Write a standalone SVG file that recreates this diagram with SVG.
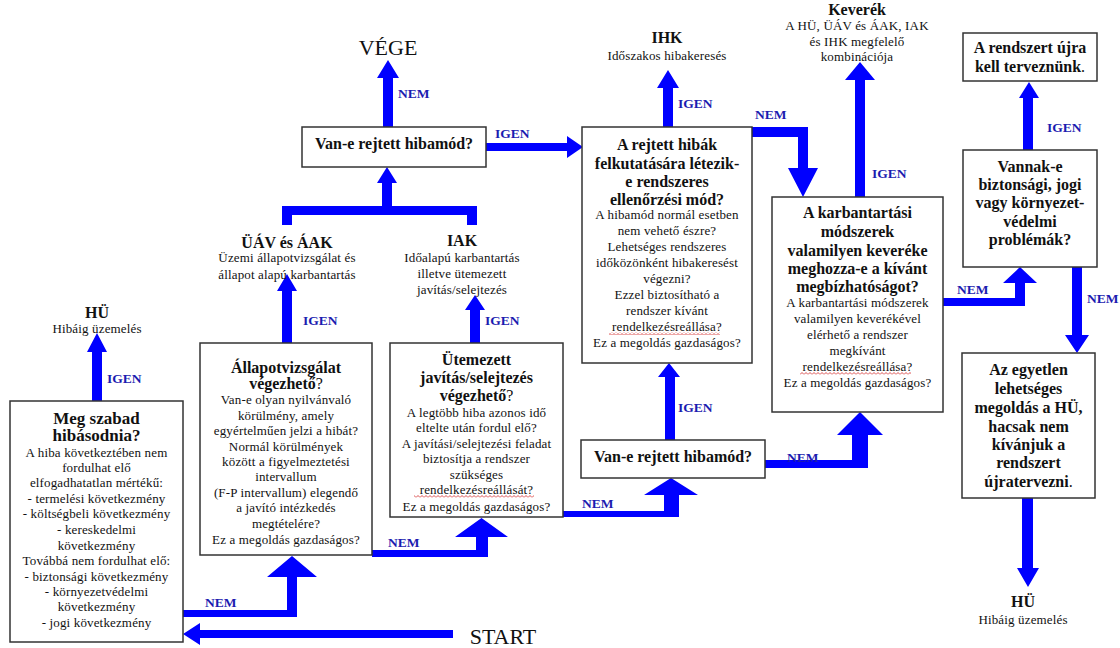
<svg xmlns="http://www.w3.org/2000/svg" width="1120" height="648" viewBox="0 0 1120 648">
<style>
.box{fill:#fff;stroke:#333;stroke-width:1.5}
.t{font-family:"Liberation Serif","Times New Roman",serif;font-size:13px;letter-spacing:0.15px;fill:#111;text-anchor:middle}
.b{font-weight:bold;font-size:16px;letter-spacing:0}
.n{font-weight:normal}
.h{font-family:"Liberation Serif","Times New Roman",serif;font-weight:bold;font-size:16px;fill:#111;text-anchor:middle}
.big{font-family:"Liberation Serif","Times New Roman",serif;font-size:22px;fill:#111;text-anchor:middle}
.lbl{font-family:"Liberation Serif","Times New Roman",serif;font-weight:bold;font-size:13.5px;fill:#1c1cb0}
.arr{fill:#0000ff}
</style>
<defs>
<pattern id="wavy" width="4" height="3" patternUnits="userSpaceOnUse">
<path d="M0,2.5 L2,0.5 L4,2.5" fill="none" stroke="#d02020" stroke-width="0.8"/>
</pattern>
</defs>
<rect width="1120" height="648" fill="#fff"/>

<g id="connectors">
<polygon class="arr" points="92,401 92,352 87,352 97,333 107,352 102,352 102,401"/>
<polygon class="arr" points="282,343 282,291 277,291 287,274 297,291 292,291 292,343"/>
<polygon class="arr" points="470,343 470,310 465,310 475,295 485,310 480,310 480,343"/>
<polygon class="arr" points="282,225 282,206 382,206 382,183 377,183 387,167 397,183 392,183 392,206 477,206 477,225 467,225 467,215 292,215 292,225"/>
<polygon class="arr" points="383,127 383,78 377,78 388,60 399,78 393,78 393,127"/>
<polygon class="arr" points="486,143 567,143 567,136 583,147 567,158 567,151 486,151"/>
<polygon class="arr" points="663,127 663,88 657,88 668,70 679,88 673,88 673,127"/>
<polygon class="arr" points="752,127 808,127 808,168 818,168 803,197 788,168 798,168 798,137 752,137"/>
<polygon class="arr" points="855,197 855,80 845,80 860,62 875,80 865,80 865,197"/>
<polygon class="arr" points="943,298 1015,298 1015,283 1003,283 1020,267 1037,283 1025,283 1025,306 943,306"/>
<polygon class="arr" points="1023,150 1023,98 1019,98 1029,82 1039,98 1033,98 1033,150"/>
<polygon class="arr" points="1072,267 1072,335 1065,335 1077,353 1089,335 1082,335 1082,267"/>
<polygon class="arr" points="1022,498 1022,568 1017,568 1028,587 1039,568 1033,568 1033,498"/>
<polygon class="arr" points="183,610 287,610 287,577 267,577 292,556 317,577 297,577 297,617 183,617"/>
<polygon class="arr" points="453,630 200,630 200,623 183,634 200,645 200,638 453,638"/>
<polygon class="arr" points="372,550 476,550 476,537 455,537 481.5,518 508,537 488,537 488,557 372,557"/>
<polygon class="arr" points="563,511 664,511 664,495 644,495 671,478 698,495 679,495 679,517 563,517"/>
<polygon class="arr" points="665,440 665,377 658,377 669,363 680,377 675,377 675,440"/>
<polygon class="arr" points="765,460 852,460 852,435 837,435 860,412 883,435 868,435 868,468 765,468"/>
</g>

<g id="labels">
<text class="lbl" x="107" y="383">IGEN</text>
<text class="lbl" x="303" y="325">IGEN</text>
<text class="lbl" x="485" y="325">IGEN</text>
<text class="lbl" x="398" y="98">NEM</text>
<text class="lbl" x="495" y="138">IGEN</text>
<text class="lbl" x="678" y="108">IGEN</text>
<text class="lbl" x="755" y="119">NEM</text>
<text class="lbl" x="872" y="178">IGEN</text>
<text class="lbl" x="1047" y="132">IGEN</text>
<text class="lbl" x="957" y="294">NEM</text>
<text class="lbl" x="1087" y="303">NEM</text>
<text class="lbl" x="205" y="607">NEM</text>
<text class="lbl" x="388" y="547">NEM</text>
<text class="lbl" x="582" y="508">NEM</text>
<text class="lbl" x="678" y="412">IGEN</text>
<text class="lbl" x="787" y="462">NEM</text>
</g>

<g id="start">
<text class="big" x="503" y="644">START</text>
</g>
<g id="vege">
<text class="big" x="388" y="55">VÉGE</text>
</g>

<g id="hu-left">
<text class="h" x="97" y="318">HÜ</text>
<text class="t" x="97" y="333">Hibáig üzemelés</text>
</g>
<g id="uav">
<text class="h" x="287" y="248">ÜÁV és ÁAK</text>
<text class="t" x="287" y="262">Üzemi állapotvizsgálat és</text>
<text class="t" x="287" y="279">állapot alapú karbantartás</text>
</g>
<g id="iak">
<text class="h" x="462" y="246">IAK</text>
<text class="t" x="462" y="262">Időalapú karbantartás</text>
<text class="t" x="462" y="278">illetve ütemezett</text>
<text class="t" x="462" y="294">javítás/selejtezés</text>
</g>
<g id="ihk">
<text class="h" x="667" y="43">IHK</text>
<text class="t" x="667" y="60">Időszakos hibakeresés</text>
</g>
<g id="keverek">
<text class="h" x="857" y="15">Keverék</text>
<text class="t" x="857" y="30">A HÜ, ÜÁV és ÁAK, IAK</text>
<text class="t" x="857" y="46">és IHK megfelelő</text>
<text class="t" x="857" y="61">kombinációja</text>
</g>
<g id="hu-right">
<text class="h" x="1023" y="607">HÜ</text>
<text class="t" x="1023" y="624">Hibáig üzemelés</text>
</g>

<g id="box-meg-szabad">
<rect class="box" x="10" y="401" width="173" height="241"/>
<text class="t b" x="96.5" y="424" style="font-size:17px">Meg szabad</text>
<text class="t b" x="96.5" y="441" style="font-size:17px">hibásodnia?</text>
<text class="t" x="96.5" y="457">A hiba következtében nem</text>
<text class="t" x="96.5" y="472">fordulhat elő</text>
<text class="t" x="96.5" y="487">elfogadhatatlan mértékű:</text>
<text class="t" x="96.5" y="503">- termelési következmény</text>
<text class="t" x="96.5" y="518">- költségbeli következmény</text>
<text class="t" x="96.5" y="534">- kereskedelmi</text>
<text class="t" x="96.5" y="550">következmény</text>
<text class="t" x="96.5" y="565">Továbbá nem fordulhat elő:</text>
<text class="t" x="96.5" y="581">- biztonsági következmény</text>
<text class="t" x="96.5" y="596">- környezetvédelmi</text>
<text class="t" x="96.5" y="611">következmény</text>
<text class="t" x="96.5" y="627">- jogi következmény</text>
</g>

<g id="box-allapot">
<rect class="box" x="200" y="343" width="172" height="212"/>
<text class="t b" x="286" y="373">Állapotvizsgálat</text>
<text class="t b" x="286" y="389">végezhető<tspan class="n">?</tspan></text>
<text class="t" x="286" y="404">Van-e olyan nyilvánvaló</text>
<text class="t" x="286" y="420">körülmény, amely</text>
<text class="t" x="286" y="435">egyértelműen jelzi a hibát?</text>
<text class="t" x="286" y="451">Normál körülmények</text>
<text class="t" x="286" y="466">között a figyelmeztetési</text>
<text class="t" x="286" y="481">intervallum</text>
<text class="t" x="286" y="497">(F-P intervallum) elegendő</text>
<text class="t" x="286" y="512">a javító intézkedés</text>
<text class="t" x="286" y="528">megtételére?</text>
<text class="t" x="286" y="544">Ez a megoldás gazdaságos?</text>
</g>

<g id="box-utemezett">
<rect class="box" x="390" y="343" width="173" height="174"/>
<text class="t b" x="476.5" y="365">Ütemezett</text>
<text class="t b" x="476.5" y="383">javítás/selejtezés</text>
<text class="t b" x="476.5" y="401">végezhető<tspan class="n">?</tspan></text>
<text class="t" x="476.5" y="417">A legtöbb hiba azonos idő</text>
<text class="t" x="476.5" y="432">eltelte után fordul elő?</text>
<text class="t" x="476.5" y="448">A javítási/selejtezési feladat</text>
<text class="t" x="476.5" y="463">biztosítja a rendszer</text>
<text class="t" x="476.5" y="479">szükséges</text>
<text class="t" x="476.5" y="494">rendelkezésreállását?</text>
<rect x="414" y="495" width="120" height="3" fill="url(#wavy)"/>
<text class="t" x="476.5" y="511">Ez a megoldás gazdaságos?</text>
</g>

<g id="box-rejtett-1">
<rect class="box" x="302" y="127" width="184" height="40"/>
<text class="t b" x="394" y="149">Van-e rejtett hibamód?</text>
</g>

<g id="box-rejtett-2">
<rect class="box" x="581" y="440" width="184" height="38"/>
<text class="t b" x="673" y="462">Van-e rejtett hibamód?</text>
</g>

<g id="box-ellenorzes">
<rect class="box" x="582" y="127" width="170" height="236"/>
<text class="t b" x="667" y="150">A rejtett hibák</text>
<text class="t b" x="667" y="169">felkutatására létezik-</text>
<text class="t b" x="667" y="187">e rendszeres</text>
<text class="t b" x="667" y="205">ellenőrzési mód?</text>
<text class="t" x="667" y="219">A hibamód normál esetben</text>
<text class="t" x="667" y="235">nem vehető észre?</text>
<text class="t" x="667" y="251">Lehetséges rendszeres</text>
<text class="t" x="667" y="267">időközönként hibakeresést</text>
<text class="t" x="667" y="283">végezni?</text>
<text class="t" x="667" y="299">Ezzel biztosítható a</text>
<text class="t" x="667" y="315">rendszer kívánt</text>
<text class="t" x="667" y="331">rendelkezésreállása?</text>
<rect x="609" y="332" width="111" height="3" fill="url(#wavy)"/>
<text class="t" x="667" y="347">Ez a megoldás gazdaságos?</text>
</g>

<g id="box-keverek">
<rect class="box" x="772" y="197" width="171" height="215"/>
<text class="t b" x="857.5" y="218">A karbantartási</text>
<text class="t b" x="857.5" y="237">módszerek</text>
<text class="t b" x="857.5" y="256">valamilyen keveréke</text>
<text class="t b" x="857.5" y="274">meghozza-e a kívánt</text>
<text class="t b" x="857.5" y="292">megbízhatóságot?</text>
<text class="t" x="857.5" y="307">A karbantartási módszerek</text>
<text class="t" x="857.5" y="323">valamilyen keverékével</text>
<text class="t" x="857.5" y="339">elérhető a rendszer</text>
<text class="t" x="857.5" y="355">megkívánt</text>
<text class="t" x="857.5" y="371">rendelkezésreállása?</text>
<rect x="800" y="372" width="111" height="3" fill="url(#wavy)"/>
<text class="t" x="857.5" y="387">Ez a megoldás gazdaságos?</text>
</g>

<g id="box-biztonsagi">
<rect class="box" x="963" y="150" width="134" height="117"/>
<text class="t b" x="1030" y="172">Vannak-e</text>
<text class="t b" x="1030" y="190">biztonsági, jogi</text>
<text class="t b" x="1030" y="208">vagy környezet-</text>
<text class="t b" x="1030" y="227">védelmi</text>
<text class="t b" x="1030" y="245">problémák?</text>
</g>

<g id="box-ujratervezes">
<rect class="box" x="963" y="33" width="134" height="48"/>
<text class="t b" x="1030" y="53">A rendszert újra</text>
<text class="t b" x="1030" y="72">kell terveznünk<tspan class="n">.</tspan></text>
</g>

<g id="box-egyetlen">
<rect class="box" x="962" y="353" width="133" height="145"/>
<text class="t b" x="1028.5" y="375">Az egyetlen</text>
<text class="t b" x="1028.5" y="394">lehetséges</text>
<text class="t b" x="1028.5" y="413">megoldás a HÜ,</text>
<text class="t b" x="1028.5" y="432">hacsak nem</text>
<text class="t b" x="1028.5" y="450">kívánjuk a</text>
<text class="t b" x="1028.5" y="468">rendszert</text>
<text class="t b" x="1028.5" y="487">újratervezni<tspan class="n">.</tspan></text>
</g>
</svg>
